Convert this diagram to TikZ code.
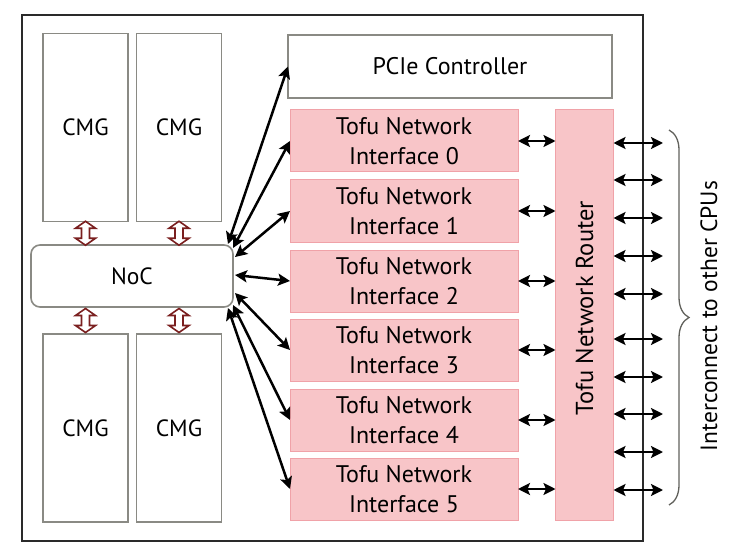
\documentclass[tikz,border=0pt]{standalone}
\usepackage{fontspec}
\setmainfont{PT Sans}
\usetikzlibrary{arrows.meta,decorations.pathreplacing,calc}
\definecolor{boxgray}{HTML}{8A8A84}
\definecolor{pinkfill}{HTML}{F8C5C8}
\definecolor{pinkedge}{HTML}{F0A2A8}
\definecolor{darkred}{HTML}{7A1F1F}
\definecolor{outline}{HTML}{2A2A2A}
\begin{document}
\begin{tikzpicture}[x=1pt,y=-1pt,
  chip/.style={draw=outline, line width=2pt, inner sep=0, outer sep=0},
  graybox/.style={draw=boxgray, line width=1.6pt, fill=white, inner sep=0, outer sep=0, font=\fontsize{23.5}{30}\selectfont},
  cmgbox/.style={graybox, minimum width=85pt, minimum height=188pt},
  tni/.style={draw=pinkedge, fill=pinkfill, line width=1pt, inner sep=0, outer sep=0, minimum width=228pt, minimum height=62pt, align=center, font=\fontsize{24}{29.5}\selectfont},
  big/.style={draw=black, line width=2.5pt, {Stealth[length=12pt,width=12pt,inset=2.5pt]}-{Stealth[length=12pt,width=12pt,inset=2.5pt]}},
  dbl/.pic={\draw[darkred, line width=1.6pt, fill=white, line join=miter]
     (0,-12) -- (10,-5) -- (4,-5) -- (4,5) -- (10,5) -- (0,12) -- (-10,5) -- (-4,5) -- (-4,-5) -- (-10,-5) -- cycle;}
]
\useasboundingbox (0,0) rectangle (738,553);
\node[chip, minimum width=621pt, minimum height=526pt, anchor=north west] (cpu) at (22,15) {};

% CMGs and NoC
\node[cmgbox] (cmg1) at (85.5,127.5) {CMG};
\node[cmgbox] (cmg2) at (179,127.5) {CMG};
\node[cmgbox] (cmg3) at (85.5,428) {CMG};
\node[cmgbox] (cmg4) at (179,428) {CMG};
\node[graybox, rounded corners=9pt, minimum width=202pt, minimum height=62pt] (noc) at (132,276) {NoC};

% CMG <-> NoC hollow arrows
\coordinate (d1) at ($(cmg1.south)!0.5!(cmg1.south |- noc.north)$);
\coordinate (d2) at ($(cmg2.south)!0.5!(cmg2.south |- noc.north)$);
\coordinate (d3) at ($(cmg3.north)!0.5!(cmg3.north |- noc.south)$);
\coordinate (d4) at ($(cmg4.north)!0.5!(cmg4.north |- noc.south)$);
\pic at (d1) {dbl};
\pic at (d2) {dbl};
\pic at (d3) {dbl};
\pic at (d4) {dbl};

% PCIe
\node[graybox, minimum width=324pt, minimum height=63pt, font=\fontsize{24}{28}\selectfont] (pcie) at (450,66.5) {PCIe Controller};

% Tofu network interfaces
\node[tni] (t0) at (404,141) {Tofu Network\\Interface 0};
\node[tni] (t1) at (404,211) {Tofu Network\\Interface 1};
\node[tni] (t2) at (404,281) {Tofu Network\\Interface 2};
\node[tni] (t3) at (404,350) {Tofu Network\\Interface 3};
\node[tni] (t4) at (404,420) {Tofu Network\\Interface 4};
\node[tni] (t5) at (404,489) {Tofu Network\\Interface 5};

% Router
\node[draw=pinkedge, fill=pinkfill, line width=1pt, inner sep=0, outer sep=0, minimum width=58pt, minimum height=410pt] (router) at (584.5,315) {};
\node[rotate=90, font=\fontsize{24.5}{28}\selectfont] (rtext) at ($(router.center)+(0,-7)$) {Tofu Network Router};

% NoC to PCIe / TNIs
\draw[big] ($(noc.north east)+(-5,-1)$) -- (pcie.west);
\draw[big] ($(noc.east)+(0,-28)$) -- (t0.west);
\draw[big] ($(noc.east)+(2,-19)$) -- (t1.west);
\draw[big] ($(noc.east)+(2,-1)$) -- (t2.west);
\draw[big] ($(noc.east)+(2,17)$) -- (t3.west);
\draw[big] ($(noc.east)+(0,29)$) -- (t4.west);
\draw[big] ($(noc.south east)+(-5,1)$) -- (t5.west);

% TNI to router
\foreach \t in {t0,t1,t2,t3,t4,t5}
  \draw[big] (\t.east) -- (router.west |- \t.east);

% external links
\foreach \i/\yy in {1/143,2/180,3/218,4/256,5/294,6/339,7/377,8/414,9/452,10/490}{
  \coordinate (o\i) at (663,\yy);
  \draw[big] (router.east |- o\i) -- (o\i);
}

% brace and label
\coordinate (bt) at (669,130);
\coordinate (bb) at (669,505);
\draw[boxgray!70!black, line width=1.3pt, decorate, decoration={brace, amplitude=20pt}] (bt) -- (bb);
\node[rotate=90, font=\fontsize{23.5}{28}\selectfont] (ic) at (709,316) {Interconnect to other CPUs};
\end{tikzpicture}
\end{document}
